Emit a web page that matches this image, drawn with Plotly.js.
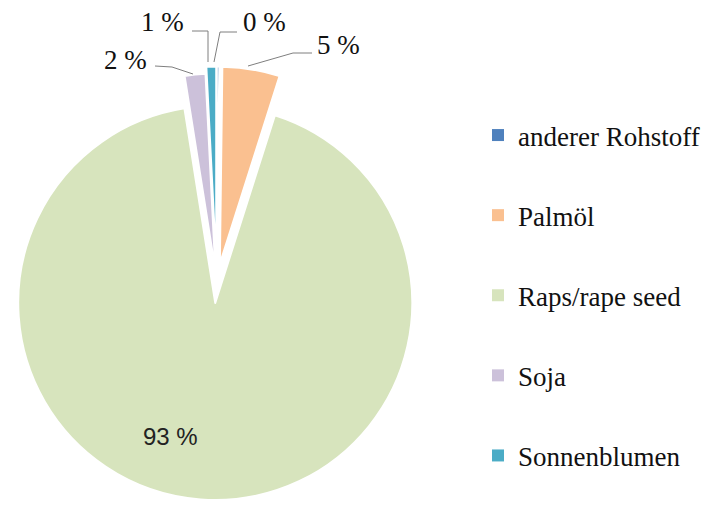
<!DOCTYPE html>
<html><head><meta charset="utf-8">
<script src="https://cdn.plot.ly/plotly-3.0.1.min.js"></script>
<style>html,body{margin:0;padding:0;background:#fff;}#chart{width:727px;height:505px;}</style>
</head><body><div id="chart"></div>
<script>
// ---- data ----
const labels = ['anderer Rohstoff', 'Palmöl', 'Raps/rape seed', 'Soja', 'Sonnenblumen'];
const values = [0.2, 4.7, 92.6, 1.7, 0.8];
const colors = ['#4F81BD', '#FAC090', '#D7E4BD', '#CCC1DA', '#4BACC6'];

// ---- styling / layout helpers ----
const W = 727, H = 505;
const pulls = [0.1, 0.1, 0.1, 0.065, 0.1];
const px = x => x / W;
const py = y => 1 - y / H;
const SERIF = 'Liberation Serif';
const SANS = 'Liberation Sans';

// label anchor positions (pixels) for each slice's percentage text
const labelPos = [[264, 22], [338, 45], [170, 436], [125, 60], [162, 22]];
// leader line paths (pixels) for each slice (null = none)
const leaders = [
  [[237, 32], [220, 32], [214, 62]],
  [[312, 53], [293, 53], [248, 66]],
  null,
  [[155, 66], [172, 67], [193, 74]],
  [[192, 31], [208, 31], [208, 62]]
];

const pieTrace = {
  type: 'pie',
  labels: labels,
  values: values,
  sort: false,
  direction: 'clockwise',
  rotation: 0,
  pull: pulls,
  marker: {colors: colors, line: {color: '#ffffff', width: 2}},
  textinfo: 'none',
  hoverinfo: 'none',
  showlegend: false,
  domain: {x: [0, 0.5962], y: [0.0034, 0.8746]}
};

const legendTraces = labels.map((l, i) => ({
  type: 'scatter', x: [null], y: [null], mode: 'markers', name: l,
  legendgroup: 'g' + i,
  marker: {symbol: 'square', size: 12, color: colors[i]},
  hoverinfo: 'skip'
}));

const annotations = values.map((v, i) => ({
  xref: 'paper', yref: 'paper',
  x: px(labelPos[i][0]), y: py(labelPos[i][1]),
  xanchor: 'center', yanchor: 'middle',
  text: Math.round(v) + ' %',
  showarrow: false,
  font: i === 2
    ? {family: SANS, size: 24, color: '#222'}
    : {family: SERIF, size: 27, color: '#111'}
}));

const shapes = leaders.filter(p => p).map(p => ({
  type: 'path', xref: 'paper', yref: 'paper',
  path: p.map((pt, j) => (j ? 'L' : 'M') + px(pt[0]) + ',' + py(pt[1])).join(' '),
  line: {color: '#7F7F7F', width: 1}
}));

const layout = {
  width: W, height: H,
  margin: {l: 0, r: 0, t: 0, b: 0},
  paper_bgcolor: '#ffffff', plot_bgcolor: 'rgba(0,0,0,0)',
  xaxis: {visible: false, range: [0, 1]},
  yaxis: {visible: false, range: [0, 1]},
  showlegend: true,
  legend: {
    x: 478 / W, y: 1 - 111 / H, xanchor: 'left', yanchor: 'top',
    font: {family: SERIF, size: 27, color: '#111'},
    tracegroupgap: 42, bgcolor: 'rgba(0,0,0,0)', traceorder: 'grouped'
  },
  annotations: annotations,
  shapes: shapes
};

Plotly.newPlot('chart', [pieTrace].concat(legendTraces), layout, {staticPlot: true});
</script>
</body></html>
